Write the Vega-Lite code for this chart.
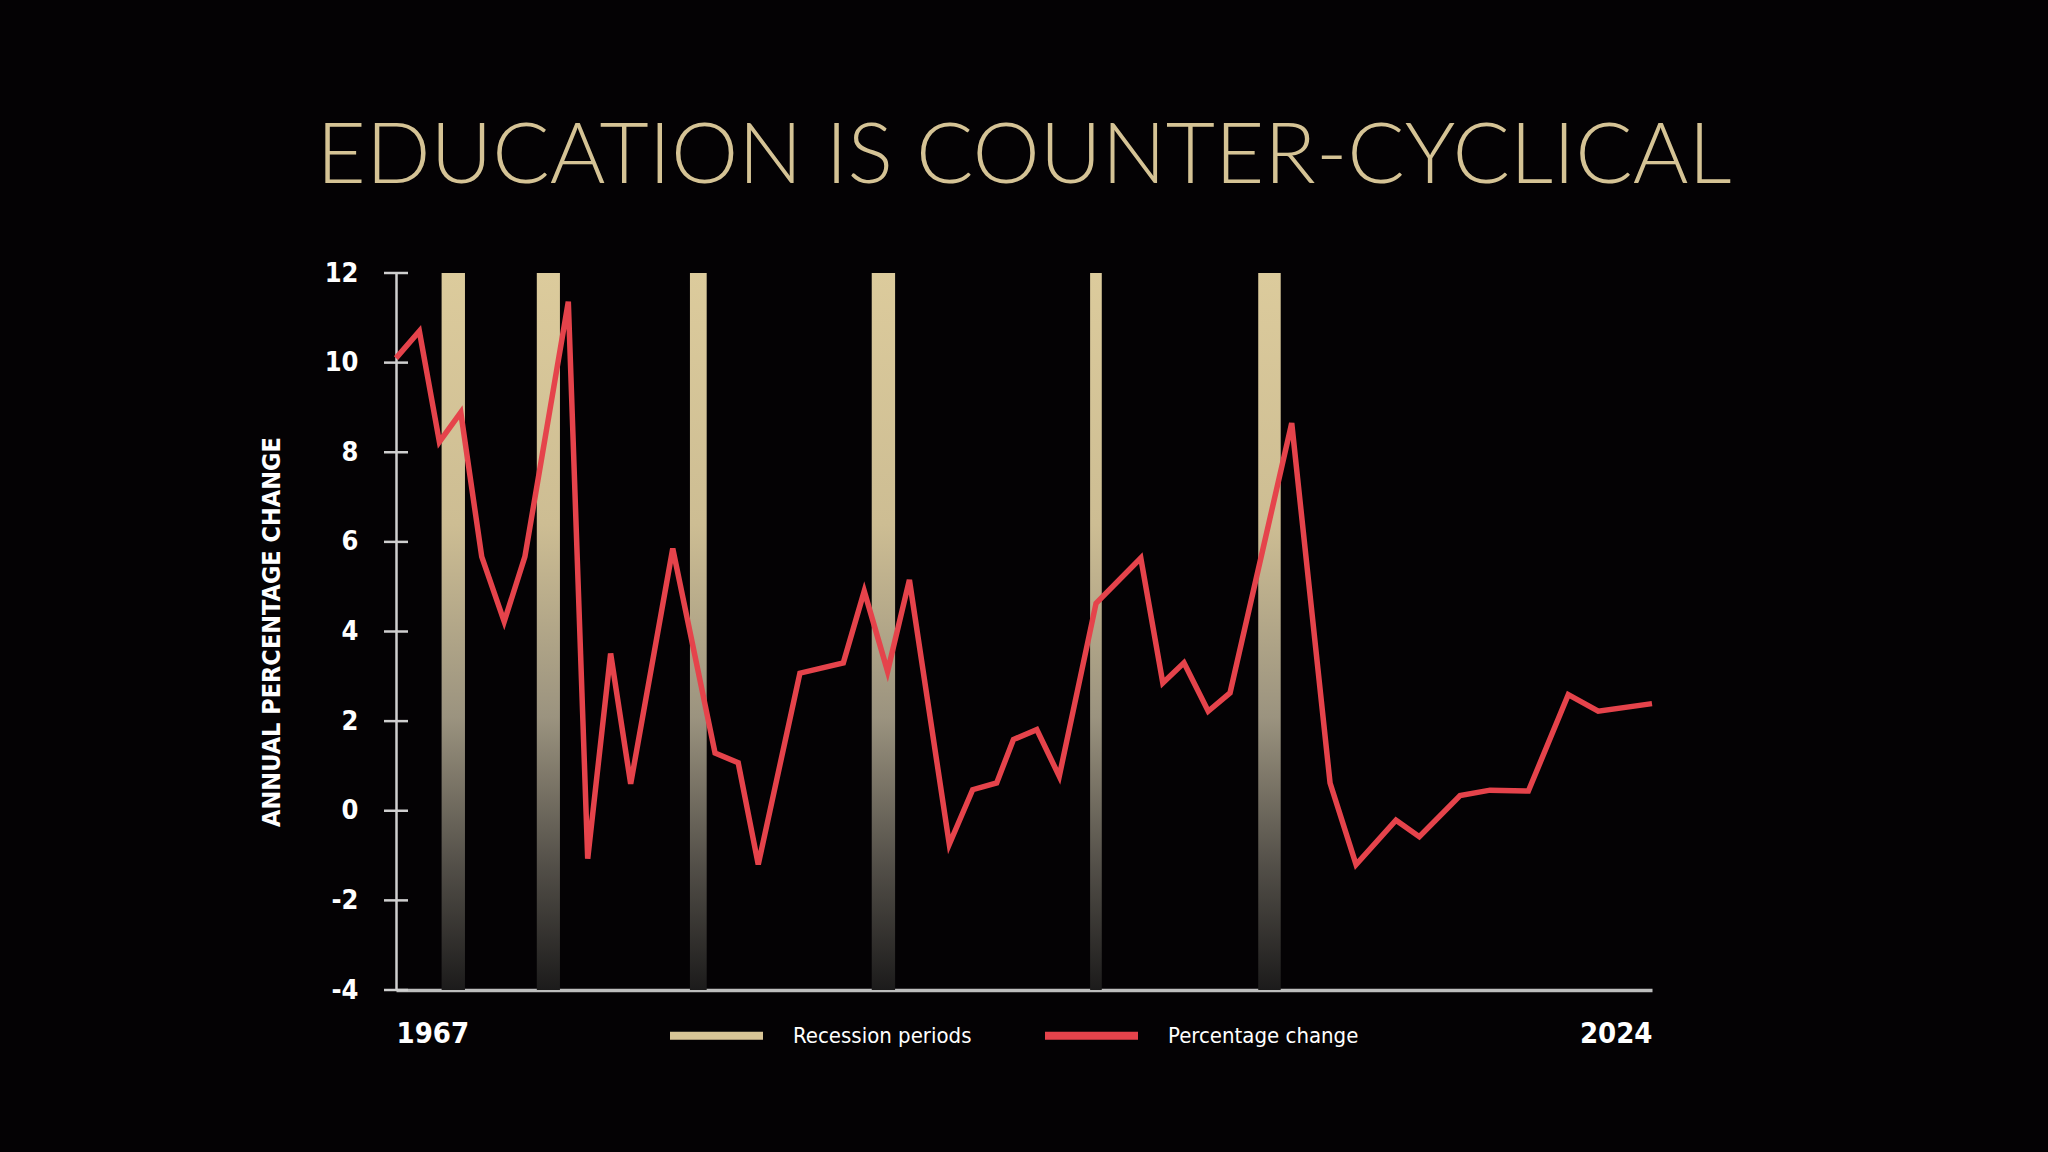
{
  "$schema": "https://vega.github.io/schema/vega-lite/v6.json",
  "width": 1256,
  "height": 717,
  "autosize": {"type": "none"},
  "padding": {"left": 396, "top": 273, "right": 396, "bottom": 162},
  "background": "#040204",
  "title": {
    "text": "EDUCATION IS COUNTER-CYCLICAL",
    "font": "Lato",
    "fontWeight": 300,
    "fontSize": 85,
    "color": "#d5c395",
    "anchor": "middle",
    "offset": 58
  },
  "config": {"view": {"stroke": null}},
  "layer": [
    {
      "data": {
        "values": [
          {"start": 1969.07, "end": 1970.13},
          {"start": 1973.39, "end": 1974.44},
          {"start": 1980.34, "end": 1981.1},
          {"start": 1988.59, "end": 1989.65},
          {"start": 1998.5, "end": 1999.03},
          {"start": 2006.13, "end": 2007.15}
        ]
      },
      "mark": {
        "type": "rect",
        "fill": {
          "gradient": "linear",
          "x1": 0, "y1": 0, "x2": 0, "y2": 1,
          "stops": [
            {"offset": 0, "color": "#dccb9c"},
            {"offset": 0.35, "color": "#cdbd93"},
            {"offset": 0.62, "color": "#9b937f"},
            {"offset": 0.82, "color": "#55514a"},
            {"offset": 1, "color": "#1c1b1b"}
          ]
        }
      },
      "encoding": {
        "x": {
          "field": "start",
          "type": "quantitative",
          "scale": {"domain": [1967, 2024], "nice": false, "zero": false},
          "axis": {
            "values": [1967, 2024],
            "format": "d",
            "labelFlush": true,
            "ticks": false,
            "grid": false,
            "domainColor": "#bdbdbd",
            "domainWidth": 3.5,
            "labelFont": "DejaVu Sans Condensed, sans-serif",
            "labelFontWeight": "bold",
            "labelFontSize": 29,
            "labelColor": "#ffffff",
            "labelPadding": 29,
            "title": null
          }
        },
        "x2": {"field": "end"}
      }
    },
    {
      "data": {
        "values": [
          {"v": -4}, {"v": -2}, {"v": 0}, {"v": 2}, {"v": 4},
          {"v": 6}, {"v": 8}, {"v": 10}, {"v": 12}
        ]
      },
      "mark": {"type": "tick", "orient": "horizontal", "size": 24, "thickness": 2.5, "color": "#cfcfcf", "opacity": 1},
      "encoding": {
        "x": {"datum": 1967, "type": "quantitative"},
        "y": {
          "field": "v",
          "type": "quantitative",
          "scale": {"domain": [-4, 12], "nice": false, "zero": false},
          "axis": {
            "values": [-4, -2, 0, 2, 4, 6, 8, 10, 12],
            "labelExpr": "'' + datum.value",
            "ticks": false,
            "grid": false,
            "domainColor": "#cfcfcf",
            "domainWidth": 2.5,
            "labelFont": "DejaVu Sans Condensed, sans-serif",
            "labelFontWeight": "bold",
            "labelFontSize": 27,
            "labelColor": "#ffffff",
            "labelPadding": 38,
            "title": "ANNUAL PERCENTAGE CHANGE",
            "titleFont": "DejaVu Sans Condensed, sans-serif",
            "titleFontWeight": "bold",
            "titleFontSize": 25,
            "titleColor": "#ffffff",
            "titlePadding": 40
          }
        }
      }
    },
    {
      "data": {
        "values": [
          {"year": 1967.0, "change": 10.1, "series": "Percentage change"},
          {"year": 1968.06, "change": 10.7, "series": "Percentage change"},
          {"year": 1968.97, "change": 8.23, "series": "Percentage change"},
          {"year": 1969.94, "change": 8.89, "series": "Percentage change"},
          {"year": 1970.89, "change": 5.67, "series": "Percentage change"},
          {"year": 1971.91, "change": 4.22, "series": "Percentage change"},
          {"year": 1972.85, "change": 5.67, "series": "Percentage change"},
          {"year": 1974.82, "change": 11.36, "series": "Percentage change"},
          {"year": 1975.7, "change": -1.07, "series": "Percentage change"},
          {"year": 1976.74, "change": 3.51, "series": "Percentage change"},
          {"year": 1977.65, "change": 0.6, "series": "Percentage change"},
          {"year": 1979.56, "change": 5.85, "series": "Percentage change"},
          {"year": 1981.48, "change": 1.29, "series": "Percentage change"},
          {"year": 1982.53, "change": 1.07, "series": "Percentage change"},
          {"year": 1983.44, "change": -1.2, "series": "Percentage change"},
          {"year": 1985.33, "change": 3.07, "series": "Percentage change"},
          {"year": 1987.3, "change": 3.3, "series": "Percentage change"},
          {"year": 1988.25, "change": 4.9, "series": "Percentage change"},
          {"year": 1989.31, "change": 3.11, "series": "Percentage change"},
          {"year": 1990.3, "change": 5.15, "series": "Percentage change"},
          {"year": 1992.11, "change": -0.75, "series": "Percentage change"},
          {"year": 1993.17, "change": 0.47, "series": "Percentage change"},
          {"year": 1994.26, "change": 0.62, "series": "Percentage change"},
          {"year": 1995.02, "change": 1.59, "series": "Percentage change"},
          {"year": 1996.08, "change": 1.81, "series": "Percentage change"},
          {"year": 1997.1, "change": 0.77, "series": "Percentage change"},
          {"year": 1998.77, "change": 4.63, "series": "Percentage change"},
          {"year": 2000.8, "change": 5.64, "series": "Percentage change"},
          {"year": 2001.8, "change": 2.85, "series": "Percentage change"},
          {"year": 2002.76, "change": 3.3, "series": "Percentage change"},
          {"year": 2003.86, "change": 2.22, "series": "Percentage change"},
          {"year": 2004.85, "change": 2.63, "series": "Percentage change"},
          {"year": 2007.65, "change": 8.65, "series": "Percentage change"},
          {"year": 2009.39, "change": 0.62, "series": "Percentage change"},
          {"year": 2010.57, "change": -1.2, "series": "Percentage change"},
          {"year": 2012.38, "change": -0.21, "series": "Percentage change"},
          {"year": 2013.44, "change": -0.58, "series": "Percentage change"},
          {"year": 2015.29, "change": 0.34, "series": "Percentage change"},
          {"year": 2016.65, "change": 0.46, "series": "Percentage change"},
          {"year": 2018.39, "change": 0.44, "series": "Percentage change"},
          {"year": 2020.2, "change": 2.59, "series": "Percentage change"},
          {"year": 2021.56, "change": 2.22, "series": "Percentage change"},
          {"year": 2024.0, "change": 2.39, "series": "Percentage change"}
        ]
      },
      "mark": {"type": "line", "strokeWidth": 5.5, "strokeJoin": "miter"},
      "encoding": {
        "x": {"field": "year", "type": "quantitative"},
        "y": {"field": "change", "type": "quantitative"},
        "color": {
          "field": "series",
          "type": "nominal",
          "scale": {
            "domain": ["Recession periods", "Percentage change"],
            "range": ["#d8c596", "#e5434b"]
          },
          "legend": {
            "orient": "none",
            "legendX": 270,
            "legendY": 712,
            "direction": "horizontal",
            "title": null,
            "symbolType": "stroke",
            "symbolSize": 8649,
            "symbolStrokeWidth": 8,
            "labelFont": "DejaVu Sans Condensed, sans-serif",
            "labelFontSize": 22,
            "labelColor": "#ffffff",
            "labelOffset": 26,
            "columnPadding": 57,
            "labelLimit": 400
          }
        }
      }
    }
  ]
}
